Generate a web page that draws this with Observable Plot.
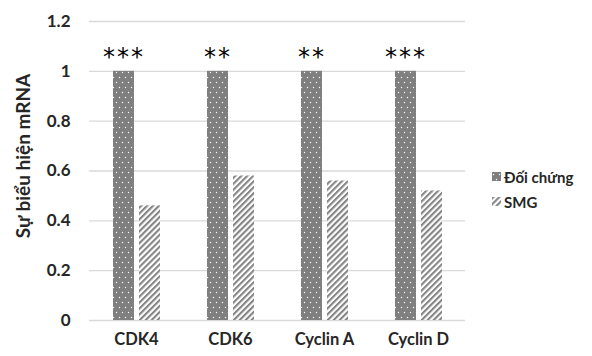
<!DOCTYPE html>
<html>
<head>
<meta charset="utf-8">
<script src="https://cdn.jsdelivr.net/npm/d3@7"></script>
<script src="https://cdn.jsdelivr.net/npm/@observablehq/plot@0.6"></script>
<style>
  body { margin: 0; background: #fff; }
  #wrap { position: relative; width: 592px; height: 356px; font-family: Lato, "Open Sans", sans-serif; }
  #ytitle { position: absolute; left: 22px; top: 156px; transform: translate(-50%, -50%) rotate(-90deg); white-space: nowrap; font-size: 19px; font-weight: bold; color: #262626; }
  #legend { position: absolute; left: 492px; top: 164px; font-size: 15px; font-weight: bold; color: #262626; }
  #legend .item { display: flex; align-items: center; height: 25px; }
  #legend svg { margin-right: 3px; }
  g[aria-label="text"] text { letter-spacing: 2px; }
</style>
</head>
<body>
<svg width="0" height="0" style="position:absolute">
  <defs>
    <pattern id="dots" patternUnits="userSpaceOnUse" width="6" height="10">
      <rect width="6" height="10" fill="#7f7f7f"></rect>
      <circle cx="1.5" cy="2.5" r="0.7" fill="#ffffff"></circle>
      <circle cx="4.5" cy="7.5" r="0.7" fill="#ffffff"></circle>
    </pattern>
    <pattern id="hatch" patternUnits="userSpaceOnUse" width="4.2" height="4.2" patternTransform="rotate(45)">
      <rect width="4.2" height="4.2" fill="#ffffff"></rect>
      <rect width="2.1" height="4.2" fill="#858585"></rect>
    </pattern>
  </defs>
</svg>
<div id="wrap">
  <div id="chart"></div>
  <div id="ytitle">Sự biểu hiện mRNA</div>
  <div id="legend"></div>
</div>
<script>
const categories = ["CDK4", "CDK6", "Cyclin A", "Cyclin D"];
const seriesNames = ["Đối chứng", "SMG"];
const controlValues = [1, 1, 1, 1];
const smgValues = [0.46, 0.58, 0.56, 0.52];
const significance = ["***", "**", "**", "***"];
const yTicks = [0, 0.2, 0.4, 0.6, 0.8, 1, 1.2];
const starLevel = 1.08;

const fills = {"Đối chứng": "url(#dots)", "SMG": "url(#hatch)"};

const data = categories.flatMap((c, i) => [
  {cat: c, series: seriesNames[0], value: controlValues[i]},
  {cat: c, series: seriesNames[1], value: smgValues[i]}
]);
const starData = categories.map((c, i) => ({cat: c, series: seriesNames[0], text: significance[i]}));

const inner = 5.5 / 27;
const chart = Plot.plot({
  width: 592,
  height: 356,
  marginLeft: 88,
  marginRight: 126,
  marginTop: 21,
  marginBottom: 36,
  style: {fontFamily: "Lato, 'Open Sans', sans-serif", color: "#262626", background: "transparent"},
  fx: {domain: categories, padding: 0, label: null, axis: null},
  x: {domain: seriesNames, paddingInner: inner, paddingOuter: 0.852, axis: null},
  y: {domain: [0, 1.2], label: null, axis: null},
  marks: [
    Plot.gridY(yTicks, {stroke: "#d9d9d9", strokeOpacity: 1, strokeWidth: 1.3}),
    Plot.barY(data, {fx: "cat", x: "series", y: "value", fill: d => fills[d.series]}),
    Plot.text(starData, {fx: "cat", x: "series", y: () => starLevel, text: "text", fontSize: 24, fontFamily: "DejaVu Sans", fill: "#000", dy: 6}),
    Plot.axisY(yTicks, {anchor: "left", tickSize: 0, tickPadding: 19, fontSize: 17, fontWeight: "bold", label: null, tickFormat: d => String(d)}),
    Plot.axisFx({anchor: "bottom", tickSize: 0, tickPadding: 13, fontSize: 16.5, fontWeight: "bold", label: null})
  ]
});
document.getElementById("chart").append(chart);

const legend = document.getElementById("legend");
for (const s of seriesNames) {
  const item = document.createElement("div");
  item.className = "item";
  item.innerHTML = `<svg width="9" height="9"><rect width="9" height="9" fill="${fills[s]}"></rect></svg><span>${s}</span>`;
  legend.append(item);
}
</script>
</body>
</html>
